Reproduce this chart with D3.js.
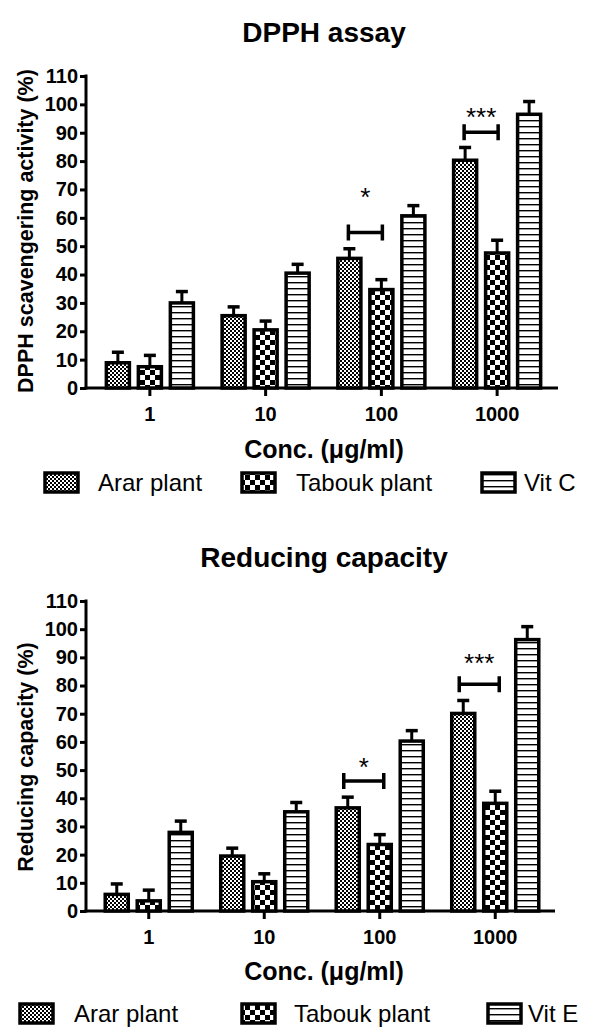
<!DOCTYPE html>
<meta charset="utf-8">
<style>
	body { margin: 0; background: #fff; }
	svg text { font-family: "Liberation Sans", Arial, sans-serif; fill: #000; }
	.tick text { font-size: 20px; font-weight: bold; }
	.tick line, .domain { stroke: #000; stroke-width: 3px; }
</style>
<head>
	<script src="https://d3js.org/d3.v7.min.js"></script>
</head>
<body>
	<svg width="592" height="1027"></svg>
</body>
<script>
// categories / series
var concs = ["1", "10", "100", "1000"];
var yTicks = [0, 10, 20, 30, 40, 50, 60, 70, 80, 90, 100, 110];

// DPPH assay (%)
var dpphSeries = ["Arar plant", "Tabouk plant", "Vit C"];
var dpphArar = [8.9, 25.5, 45.7, 80.3];
var dpphArarErr = [3.7, 3.1, 3.4, 4.5];
var dpphTabouk = [7.5, 20.5, 34.7, 47.6];
var dpphTaboukErr = [4.0, 3.1, 3.5, 4.5];
var dpphVitC = [30.0, 40.5, 60.7, 96.5];
var dpphVitCErr = [4.0, 3.1, 3.6, 4.5];
// significance brackets: [group, bracket level, label level, label]
var dpphSig = [["100", 54.8, 68.7, "*"], ["1000", 90.2, 96.8, "***"]];

// Reducing capacity (%)
var redSeries = ["Arar plant", "Tabouk plant", "Vit E"];
var redArar = [5.9, 19.5, 36.6, 70.1];
var redArarErr = [3.7, 2.8, 3.8, 4.6];
var redTabouk = [3.6, 10.4, 23.6, 38.2];
var redTaboukErr = [3.8, 2.8, 3.5, 4.3];
var redVitE = [27.9, 35.2, 60.3, 96.3];
var redVitEErr = [4.0, 3.3, 3.7, 4.6];
var redSig = [["100", 46.1, 52.6, "*"], ["1000", 80.5, 89.4, "***"]];

var svg = d3.select("svg");
var defs = svg.append("defs");

// fill patterns
var p1 = defs.append("pattern").attr("id", "pFine").attr("patternUnits", "userSpaceOnUse")
	.attr("width", 4).attr("height", 4);
p1.append("rect").attr("width", 4).attr("height", 4).attr("fill", "#fff");
p1.append("rect").attr("width", 2).attr("height", 2).attr("fill", "#000");
p1.append("rect").attr("x", 2).attr("y", 2).attr("width", 2).attr("height", 2).attr("fill", "#000");

var p2 = defs.append("pattern").attr("id", "pCoarse").attr("patternUnits", "userSpaceOnUse")
	.attr("width", 10).attr("height", 10);
p2.append("rect").attr("width", 10).attr("height", 10).attr("fill", "#fff");
p2.append("rect").attr("width", 5).attr("height", 5).attr("fill", "#000");
p2.append("rect").attr("x", 5).attr("y", 5).attr("width", 5).attr("height", 5).attr("fill", "#000");

var p3 = defs.append("pattern").attr("id", "pLines").attr("patternUnits", "userSpaceOnUse")
	.attr("width", 6).attr("height", 6);
p3.append("rect").attr("width", 6).attr("height", 6).attr("fill", "#fff");
p3.append("rect").attr("y", 0).attr("width", 6).attr("height", 1.4).attr("fill", "#000");

var fills = ["url(#pFine)", "url(#pCoarse)", "url(#pLines)"];

function panel(opt) {
	var g = svg.append("g");
	var x0 = d3.scaleBand().domain(concs).range(opt.xr);
	var x1 = d3.scaleBand().domain(opt.series).range([-48, 48]).paddingInner(0.28).paddingOuter(0.14);
	var y = d3.scaleLinear().domain([0, 110]).range(opt.yr);

	// title
	g.append("text").attr("x", 324).attr("y", opt.titleY).attr("text-anchor", "middle")
		.style("font-size", "28px").style("font-weight", "bold").text(opt.title);

	// y axis
	var ya = g.append("g").attr("transform", "translate(86,0)")
		.call(d3.axisLeft(y).tickValues(yTicks).tickSize(6).tickPadding(2).tickSizeOuter(0));
	ya.select(".domain").attr("d", "M0," + (y(0) + 1.5) + "V" + (y(110) - 1.5));

	// x axis
	var xa = g.append("g").attr("transform", "translate(0," + y(0) + ")")
		.call(d3.axisBottom(x0).tickSize(8).tickPadding(11).tickSizeOuter(0));
	xa.select(".domain").attr("d", "M84.5,0H" + opt.xEnd);

	g.append("text").attr("transform", "translate(33," + opt.yLabelY + ") rotate(-90)")
		.attr("text-anchor", "middle").style("font-size", "21.5px").style("font-weight", "bold")
		.text(opt.yLabel);

	g.append("text").attr("x", 324).attr("y", opt.concY).attr("text-anchor", "middle")
		.style("font-size", "25px").style("font-weight", "bold").text("Conc. (\u03bcg/ml)");

	// bars with error bars
	opt.values.forEach(function(vals, si) {
		vals.forEach(function(v, gi) {
			var c = concs[gi];
			var bx = x0(c) + x0.bandwidth() / 2 + x1(opt.series[si]);
			var cx = bx + x1.bandwidth() / 2;
			var top = y(v + opt.errs[si][gi]);
			g.append("line").attr("x1", cx).attr("x2", cx).attr("y1", y(v)).attr("y2", top)
				.attr("stroke", "#000").attr("stroke-width", 3);
			g.append("line").attr("x1", cx - 6).attr("x2", cx + 6).attr("y1", top).attr("y2", top)
				.attr("stroke", "#000").attr("stroke-width", 3.5);
			g.append("rect").attr("x", bx).attr("y", y(v)).attr("width", x1.bandwidth())
				.attr("height", y(0) - y(v)).attr("fill", fills[si])
				.attr("stroke", "#000").attr("stroke-width", 3.5);
		});
	});

	// significance brackets
	opt.sig.forEach(function(s) {
		var gc = x0(s[0]) + x0.bandwidth() / 2;
		var xa1 = gc + x1(opt.series[0]) + x1.bandwidth() / 2 - opt.brPad;
		var xa2 = gc + x1(opt.series[1]) + x1.bandwidth() / 2 + opt.brPad;
		var by = y(s[1]);
		g.append("path").attr("d", "M" + xa1 + "," + by + "H" + xa2 +
				"M" + xa1 + "," + (by - 8) + "V" + (by + 8) +
				"M" + xa2 + "," + (by - 8) + "V" + (by + 8))
			.attr("stroke", "#000").attr("stroke-width", 3.5).attr("fill", "none");
		g.append("text").attr("x", (xa1 + xa2) / 2).attr("y", y(s[2]) + 13)
			.attr("text-anchor", "middle").style("font-size", "26px").text(s[3]);
	});

	// legend
	opt.series.forEach(function(name, i) {
		var lx = opt.legX[i];
		g.append("rect").attr("x", lx).attr("y", opt.legY - 9).attr("width", 33).attr("height", 19)
			.attr("fill", fills[i]).attr("stroke", "#000").attr("stroke-width", 3.5);
		g.append("text").attr("x", opt.legT[i]).attr("y", opt.legY + 9)
			.style("font-size", "24px").text(name);
	});
}

panel({
	title: "DPPH assay", titleY: 42,
	series: dpphSeries,
	values: [dpphArar, dpphTabouk, dpphVitC],
	errs: [dpphArarErr, dpphTaboukErr, dpphVitCErr],
	sig: dpphSig, brPad: 1,
	xr: [92, 555], xEnd: 558, yr: [388, 76],
	yLabel: "DPPH scavengering activity (%)", yLabelY: 231,
	concY: 458,
	legY: 482, legX: [45, 242, 482], legT: [98, 296, 524]
});

panel({
	title: "Reducing capacity", titleY: 567,
	series: redSeries,
	values: [redArar, redTabouk, redVitE],
	errs: [redArarErr, redTaboukErr, redVitEErr],
	sig: redSig, brPad: 4,
	xr: [91, 553], xEnd: 555, yr: [911, 601],
	yLabel: "Reducing capacity (%)", yLabelY: 757,
	concY: 980,
	legY: 1013, legX: [20, 242, 488], legT: [74, 294, 528]
});
</script>
